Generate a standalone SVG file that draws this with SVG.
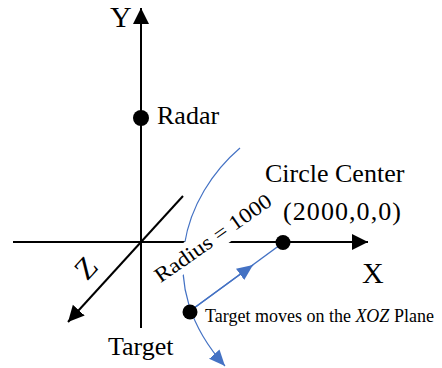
<svg xmlns="http://www.w3.org/2000/svg" width="442" height="368" viewBox="0 0 442 368">
<style>
  text { font-family: "Liberation Serif", "Times New Roman", serif; fill: #000; }
  .axis { stroke: #000; stroke-width: 2; fill: none; }
  .blue { stroke: #4472C4; fill: none; }
  .big { font-size: 30px; }
  .lbl { font-size: 26px; }
  .dot { fill: #000; }
</style>
<defs>
  <marker id="ah" markerUnits="userSpaceOnUse" markerWidth="17" markerHeight="17" refX="16" refY="8" orient="auto">
    <path d="M0,0 L16,8 L0,16 z" fill="#000"/>
  </marker>
  <marker id="bh" markerUnits="userSpaceOnUse" markerWidth="17" markerHeight="15" refX="16" refY="7" orient="auto">
    <path d="M0,0 L16,7 L0,14 z" fill="#4472C4"/>
  </marker>
</defs>
<g id="connectors">
  <line id="y-axis" class="axis" x1="141" y1="328" x2="141" y2="8" marker-end="url(#ah)"/>
  <line id="x-axis-left" class="axis" x1="13" y1="242" x2="226" y2="242"/>
  <line id="x-axis" class="axis" x1="226" y1="242" x2="368" y2="242" marker-end="url(#ah)"/>
  <line id="z-axis" class="axis" x1="183" y1="196" x2="68" y2="322" marker-end="url(#ah)"/>
  <path id="arc" class="blue" stroke-width="1.2" d="M240,148 C185,195 152,285 225,366" marker-end="url(#bh)"/>
  <line id="radius-line" class="blue" stroke-width="1.5" x1="190" y1="311" x2="284" y2="242"/>
  <line id="radius-arrow" class="blue" stroke-width="1.5" x1="190" y1="311" x2="253" y2="265" marker-end="url(#bh)"/>
</g>
<g id="radius-label" transform="translate(213,238) rotate(-35)">
  <rect x="-74" y="-13" width="148" height="26" fill="#fff"/>
  <text x="0" y="7" font-size="21" text-anchor="middle" textLength="138" lengthAdjust="spacingAndGlyphs">Radius = 1000</text>
</g>
<g id="y-label"><text class="big" x="110" y="27">Y</text></g>
<g id="x-label"><text class="big" x="362" y="283">X</text></g>
<g id="z-label" transform="translate(86,268) rotate(-47)"><text class="big" x="0" y="10" text-anchor="middle">Z</text></g>
<g id="radar">
  <circle class="dot" cx="141" cy="118" r="8"/>
  <text class="lbl" x="157" y="124">Radar</text>
</g>
<g id="circle-center">
  <circle class="dot" cx="283" cy="242.5" r="7.5"/>
  <text class="lbl" x="265" y="182">Circle Center</text>
  <text class="lbl" x="283" y="220" textLength="118">(2000,0,0)</text>
</g>
<g id="target">
  <circle class="dot" cx="190" cy="312" r="7.5"/>
  <text font-size="18" x="205" y="322">Target moves on the <tspan font-style="italic">XOZ</tspan> Plane</text>
</g>
<g id="target-label"><text class="lbl" x="108" y="355">Target</text></g>
</svg>
